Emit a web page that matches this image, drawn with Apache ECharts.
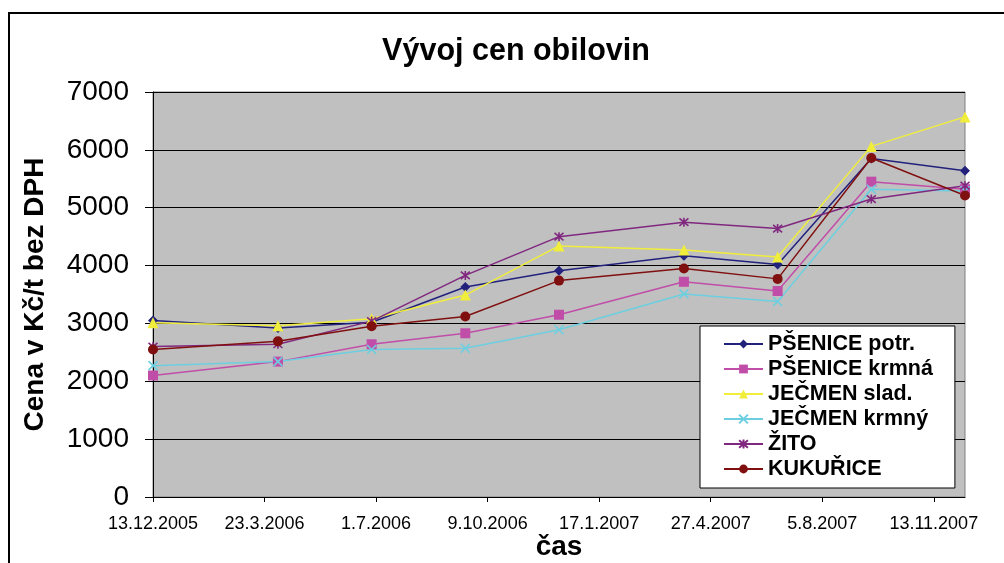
<!DOCTYPE html>
<html>
<head>
<meta charset="utf-8">
<script src="https://cdn.jsdelivr.net/npm/echarts@6/dist/echarts.min.js"></script>
<style>
  html, body { margin: 0; padding: 0; background: #fff; }
  #chart { width: 1004px; height: 563px; }
</style>
</head>
<body>
<div id="chart"></div>
<script>
// dates of the price points
const dates = ["2005-12-13", "2006-04-04", "2006-06-27", "2006-09-19", "2006-12-12",
  "2007-04-03", "2007-06-26", "2007-09-18", "2007-12-11"];

const psenicePotr = [3050, 2920, 3020, 3630, 3910, 4170, 4020, 5850, 5640];
const pseniceKrmna = [2100, 2340, 2640, 2830, 3150, 3720, 3560, 5450, 5320];
const jecmenSlad = [3010, 2960, 3080, 3490, 4340, 4270, 4150, 6060, 6570];
const jecmenKrmny = [2270, 2340, 2550, 2570, 2890, 3510, 3380, 5320, 5290];
const zito = [2600, 2640, 3040, 3830, 4500, 4750, 4640, 5150, 5380];
const kukurice = [2550, 2690, 2950, 3120, 3740, 3950, 3770, 5860, 5210];

// x axis: days since first date, labelled every 100 days
const xTicks = [0, 100, 200, 300, 400, 500, 600, 700];
const yTicks = [0, 1000, 2000, 3000, 4000, 5000, 6000, 7000];

const DAY = 24 * 3600 * 1000;
const base = Date.UTC(2005, 11, 13);
const dayOf = (s) => {
  const p = s.split("-").map(Number);
  return Math.round((Date.UTC(p[0], p[1] - 1, p[2]) - base) / DAY);
};
const fmtDay = (v) => {
  const d = new Date(base + v * DAY);
  return d.getUTCDate() + "." + (d.getUTCMonth() + 1) + "." + d.getUTCFullYear();
};
const days = dates.map(dayOf);
const pairs = (vals) => vals.map((v, i) => [days[i], v]);

const FONT = "Liberation Sans, Arial, sans-serif";

const mk = (name, vals, color, symbol, size, stroke) => ({
  name: name,
  type: "line",
  data: pairs(vals),
  symbol: symbol,
  symbolSize: size,
  showAllSymbol: true,
  lineStyle: { color: color, width: 1.5 },
  itemStyle: stroke
    ? { color: "rgba(0,0,0,0)", borderColor: color, borderWidth: 1.6 }
    : { color: color, borderWidth: 0 },
  emphasis: { disabled: true },
  animation: false,
});

const chart = echarts.init(document.getElementById("chart"));

chart.setOption({
  backgroundColor: "#fff",
  animation: false,
  title: {
    text: "Vývoj cen obilovin",
    left: 511,
    top: 31,
    textAlign: "center",
    textStyle: { fontFamily: FONT, fontSize: 30.5, fontWeight: "bold", color: "#000" },
  },
  graphic: [
    {
      type: "rect",
      z: -10,
      shape: { x: 9, y: 13, width: 1100, height: 700 },
      style: { fill: null, stroke: "#000", lineWidth: 2 },
    },
  ],
  legend: {
    orient: "vertical",
    left: 700,
    top: 326,
    padding: [7, 22, 8, 23],
    itemWidth: 39,
    itemHeight: 11,
    itemGap: 3,
    backgroundColor: "#fff",
    borderColor: "#000",
    borderWidth: 1,
    textStyle: { fontFamily: FONT, fontSize: 21.5, fontWeight: "bold", color: "#000", lineHeight: 21.5 },
  },
  grid: {
    left: 153,
    top: 92,
    width: 812,
    height: 405,
    outerBoundsMode: "none",
    containLabel: false,
    show: true,
    backgroundColor: "#c0c0c0",
    borderColor: "#808080",
    borderWidth: 1,
  },
  xAxis: {
    type: "value",
    min: 0,
    max: days[days.length - 1],
    interval: 100,
    name: "čas",
    nameLocation: "middle",
    nameGap: 36,
    nameMoveOverlap: false,
    nameTextStyle: { fontFamily: FONT, fontSize: 28, fontWeight: "bold", color: "#000" },
    axisLine: { show: true, lineStyle: { color: "#000", width: 1 } },
    axisTick: { show: true, length: 5, lineStyle: { color: "#000" }, customValues: xTicks },
    axisLabel: {
      customValues: xTicks,
      formatter: fmtDay,
      fontFamily: FONT,
      fontSize: 18,
      color: "#000",
      margin: 18,
    },
    splitLine: { show: false },
  },
  yAxis: {
    type: "value",
    min: 0,
    max: 7000,
    interval: 1000,
    name: "Cena v Kč/t bez DPH",
    nameLocation: "middle",
    nameGap: 104,
    nameMoveOverlap: false,
    nameTextStyle: { fontFamily: FONT, fontSize: 28, fontWeight: "bold", color: "#000" },
    axisLine: { show: true, lineStyle: { color: "#000", width: 1 } },
    axisTick: { show: true, length: 8, lineStyle: { color: "#000" }, customValues: yTicks },
    axisLabel: {
      fontFamily: FONT,
      fontSize: 28,
      color: "#000",
      margin: 24,
      customValues: yTicks,
      formatter: (v) => String(v),
    },
    splitLine: { show: true, lineStyle: { color: "#000", width: 1 } },
  },
  series: [
    mk("PŠENICE potr.", psenicePotr, "#22227c", "diamond", 10),
    mk("PŠENICE krmná", pseniceKrmna, "#c04ea8", "rect", 10),
    mk("JEČMEN slad.", jecmenSlad, "#f0ee3a", "triangle", 11),
    mk("JEČMEN krmný", jecmenKrmny, "#6ccfe0", "path://M0,0L10,10M10,0L0,10", 9, true),
    mk("ŽITO", zito, "#80287f", "path://M0,0L10,10M10,0L0,10M5,-1L5,11", 9, true),
    mk("KUKUŘICE", kukurice, "#801010", "circle", 10),
  ],
});
</script>
</body>
</html>
